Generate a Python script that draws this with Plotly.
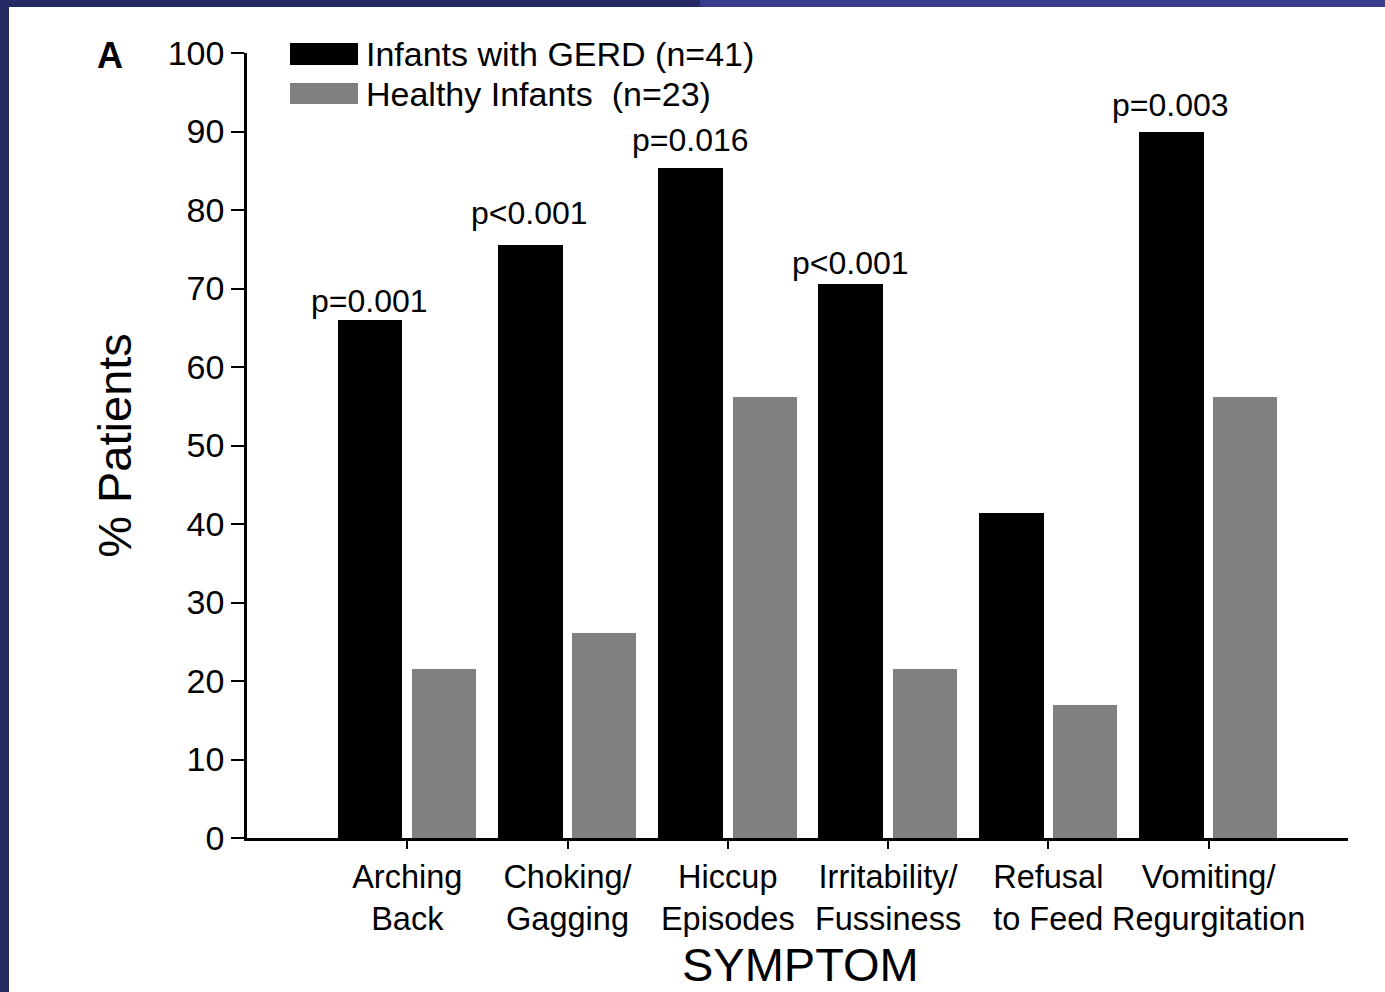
import plotly.graph_objects as go

# ---- data ----
categories = ["Arching<br>Back", "Choking/<br>Gagging", "Hiccup<br>Episodes",
              "Irritability/<br>Fussiness", "Refusal<br>to Feed", "Vomiting/<br>Regurgitation"]
gerd_values = [66.0, 75.6, 85.4, 70.6, 41.4, 90.0]
healthy_values = [21.5, 26.1, 56.2, 21.5, 17.0, 56.2]
gerd_name = "Infants with GERD (n=41)"
healthy_name = "Healthy Infants  (n=23)"
p_labels = ["p=0.001", "p<0.001", "p=0.016", "p<0.001", "", "p=0.003"]
y_ticks = [0, 10, 20, 30, 40, 50, 60, 70, 80, 90, 100]

# ---- layout constants (pixels in a 1385x992 page) ----
W, H = 1385, 992
L, R, T, B = 247, 1348, 53, 838
p_label_gap = [2.4, 4.0, 3.5, 2.7, 0, 3.4]
FONT = "Liberation Sans, Arial, sans-serif"


def px(x):
    return (x - L) / (R - L)


def py(y):
    return (B - y) / (B - T)


xs = list(range(len(categories)))
fig = go.Figure()
fig.add_trace(go.Bar(x=xs, y=gerd_values, name=gerd_name, marker_color="#000000",
                     marker_line_width=0, width=0.405, offset=-0.435, showlegend=False))
fig.add_trace(go.Bar(x=xs, y=healthy_values, name=healthy_name, marker_color="#808080",
                     marker_line_width=0, width=0.4, offset=0.03, showlegend=False))

annotations = []
for i, (lab, v, g) in enumerate(zip(p_labels, gerd_values, p_label_gap)):
    if not lab:
        continue
    annotations.append(dict(x=i - 0.235, y=v + g, xref="x", yref="y", text=lab,
                            showarrow=False, yanchor="middle", xanchor="center",
                            font=dict(family=FONT, size=32, color="#000")))

# panel letter
annotations.append(dict(x=px(110), y=py(55), xref="paper", yref="paper", text="<b>A</b>",
                        showarrow=False, xanchor="center", yanchor="middle",
                        font=dict(family=FONT, size=36, color="#000")))
# x-axis title
annotations.append(dict(x=px(800), y=py(964), xref="paper", yref="paper", text="SYMPTOM",
                        showarrow=False, xanchor="center", yanchor="middle",
                        font=dict(family=FONT, size=47, color="#000")))
# page frame + custom legend
shapes = [
    dict(type="rect", xref="paper", yref="paper", x0=px(700), x1=px(1385), y0=py(7), y1=py(0),
         fillcolor="#383c8c", line_width=0, layer="below"),
    dict(type="rect", xref="paper", yref="paper", x0=px(9), x1=px(1385), y0=py(992), y1=py(7),
         fillcolor="white", line_width=0, layer="below"),
    dict(type="rect", xref="paper", yref="paper", x0=px(290), x1=px(358), y0=py(65), y1=py(43),
         fillcolor="#000000", line_width=0),
    dict(type="rect", xref="paper", yref="paper", x0=px(290), x1=px(358), y0=py(104), y1=py(83),
         fillcolor="#808080", line_width=0),
]
for name, yc in [(gerd_name, 54), (healthy_name, 94)]:
    annotations.append(dict(x=px(364), y=py(yc), xref="paper", yref="paper", text=name,
                            showarrow=False, xanchor="left", yanchor="middle",
                            font=dict(family=FONT, size=34, color="#000")))

fig.update_layout(
    width=W, height=H,
    margin=dict(l=L, r=W - R, t=T, b=H - B, pad=0),
    paper_bgcolor="#262a62", plot_bgcolor="white",
    bargap=0, barmode="overlay",
    font=dict(family=FONT, color="#000"),
    shapes=shapes, annotations=annotations,
)
fig.update_xaxes(
    range=[-1.0, 5.87], tickmode="array", tickvals=xs, ticktext=categories,
    ticks="outside", ticklen=8, tickwidth=2, tickcolor="#000",
    showline=True, linecolor="#000", linewidth=2.5, showgrid=False, zeroline=False,
    tickfont=dict(family=FONT, size=32.5, color="#000"),
)
fig.update_yaxes(
    range=[0, 100], tickmode="array", tickvals=y_ticks,
    ticks="outside", ticklen=13, tickwidth=2, tickcolor="#000",
    showline=True, linecolor="#000", linewidth=2.5, showgrid=False, zeroline=False,
    tickfont=dict(family=FONT, size=34, color="#000"),
    title=dict(text="% Patients", font=dict(family=FONT, size=47, color="#000"), standoff=22),
)

fig.write_html("out.html", config={"displayModeBar": False},
               post_script="document.body.style.margin='0';document.body.style.overflow='hidden';")
